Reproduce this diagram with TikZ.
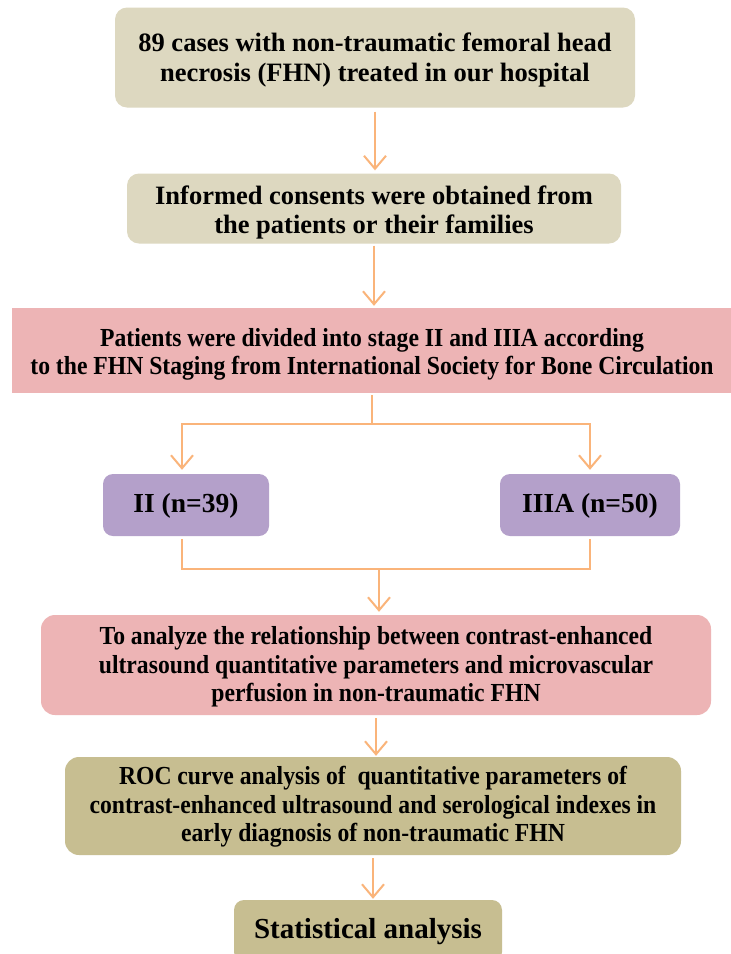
\documentclass[tikz,border=0pt]{standalone}
\usepackage{fontspec}
\setmainfont{Liberation Serif}
\newfontfamily\condfont{Liberation Serif}[FakeStretch=0.91]
\usetikzlibrary{arrows.meta}
\definecolor{beige}{RGB}{221,216,192}
\definecolor{pinkbox}{RGB}{237,180,181}
\definecolor{purplebox}{RGB}{180,160,202}
\definecolor{olivebox}{RGB}{199,190,145}
\definecolor{arrowc}{RGB}{250,180,122}
\tikzset{
  box/.style={rounded corners=12pt, inner sep=0pt},
  txt/.style={inner sep=0pt, align=center, text=black},
  conn/.style={draw=arrowc, line width=2pt},
  arr/.style={conn, -{Straight Barb[length=13pt,width=22pt,line width=2pt]}}
}
\begin{document}
\begin{tikzpicture}[x=1pt,y=-1pt]
\useasboundingbox[fill=white] (0,0) rectangle (731,954);
% boxes
\node[box, fill=beige, minimum width=520pt, minimum height=100pt] (b1) at (375,57.5) {};
\node[box, fill=beige, minimum width=494pt, minimum height=70pt] (b2) at (374,208.5) {};
\node[box, rounded corners=0pt, fill=pinkbox, minimum width=720pt, minimum height=85pt] (b3) at (372,350.5) {};
\node[box, rounded corners=10pt, fill=purplebox, minimum width=166pt, minimum height=62pt] (ii) at (186,505) {};
\node[box, rounded corners=10pt, fill=purplebox, minimum width=180pt, minimum height=62pt] (iiia) at (590,505) {};
\node[box, rounded corners=14pt, fill=pinkbox, minimum width=670pt, minimum height=100pt] (b6) at (376,665) {};
\node[box, rounded corners=14pt, fill=olivebox, minimum width=616pt, minimum height=98pt] (b7) at (373,806) {};
\node[box, rounded corners=10pt, fill=olivebox, minimum width=268pt, minimum height=62pt] (b8) at (368,931) {};
% texts
\node[txt, font=\fontsize{26.5}{30}\selectfont\bfseries] (t1) at ([yshift=-2pt]b1.center)
  {89 cases with non-traumatic femoral head\\necrosis (FHN) treated in our hospital};
\node[txt, font=\fontsize{26.5}{29.5}\selectfont\bfseries] (t2) at ([yshift=-4pt]b2.center)
  {Informed consents were obtained from\\the patients or their families};
\node[txt, font=\condfont\fontsize{26}{28}\selectfont\bfseries] (t3) at ([yshift=-4pt]b3.center)
  {Patients were divided into stage II and IIIA according\\to the FHN Staging from International Society for Bone Circulation};
\node[txt, font=\fontsize{27.5}{30}\selectfont\bfseries] (tii) at ([yshift=-1pt]ii.center)
  {II (n=39)};
\node[txt, font=\fontsize{27.5}{30}\selectfont\bfseries] (tiiia) at ([yshift=-1pt]iiia.center)
  {IIIA (n=50)};
\node[txt, font=\condfont\fontsize{26}{28.5}\selectfont\bfseries] (t6) at ([yshift=-2pt]b6.center)
  {To analyze the relationship between contrast-enhanced\\ultrasound quantitative parameters and microvascular\\perfusion in non-traumatic FHN};
\node[txt, font=\condfont\fontsize{26}{28.5}\selectfont\bfseries] (t7) at ([yshift=-1pt]b7.center)
  {ROC curve analysis of\ \ quantitative parameters of\\contrast-enhanced ultrasound and serological indexes in\\early diagnosis of non-traumatic FHN};
\node[txt, font=\fontsize{29}{32}\selectfont\bfseries] (t8) at ([yshift=-1pt]b8.center)
  {Statistical analysis};
% connectors
\coordinate (split) at (372,424);
\coordinate (merge) at (379,569);
\draw[arr, shorten <=4pt, shorten >=3pt] (b1.south) -- (b1.south |- b2.north);
\draw[arr, shorten <=2pt, shorten >=2pt] (b2.south) -- (b2.south |- b3.north);
\draw[conn, shorten <=2pt] (b3.south) -- (split);
\draw[arr, shorten >=4pt] (split) -| ([xshift=-4pt]ii.north);
\draw[arr, shorten >=4pt] (split) -| (iiia.north);
\draw[conn, shorten <=3pt] ([xshift=-4pt]ii.south) |- (merge);
\draw[conn, shorten <=3pt] (iiia.south) |- (merge);
\draw[arr, shorten >=3pt] (merge) -- (merge |- b6.north);
\draw[arr, shorten <=3pt, shorten >=1pt] (b6.south) -- (b6.south |- b7.north);
\draw[arr, shorten <=3pt, shorten >=1pt] (b7.south) -- (b7.south |- b8.north);
\end{tikzpicture}
\end{document}
